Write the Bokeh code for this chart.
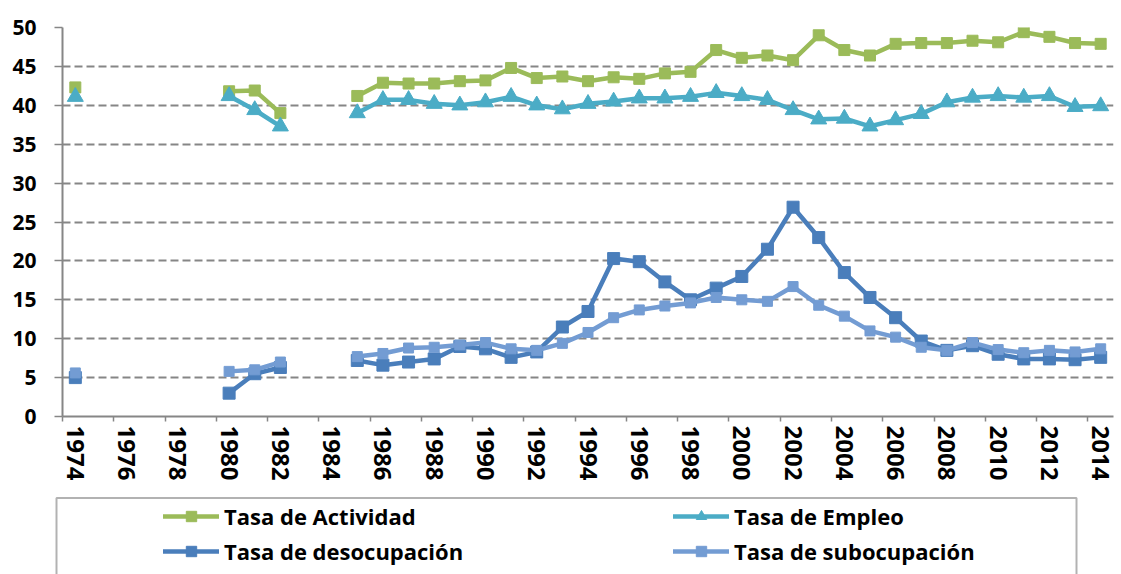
import math
from bokeh.plotting import figure
from bokeh.models import Range1d, FixedTicker, Legend, LegendItem, ColumnDataSource, BoxAnnotation
from bokeh.layouts import column, row
from bokeh.embed import file_html
from bokeh.resources import INLINE

N = None
years = list(range(1974, 2015))
tick_years = list(range(1974, 2015, 2))
y_ticks = list(range(0, 51, 5))

actividad = [42.3, N, N, N, N, N, 41.8, 41.9, 39.0, N, N,
             41.2, 42.9, 42.8, 42.8, 43.1, 43.2, 44.8, 43.5, 43.7, 43.1,
             43.6, 43.4, 44.1, 44.3, 47.1, 46.1, 46.4, 45.8, 49.0, 47.1,
             46.4, 47.9, 48.0, 48.0, 48.3, 48.1, 49.4, 48.8, 48.0, 47.9]
empleo = [41.1, N, N, N, N, N, 41.2, 39.4, 37.3, N, N,
          39.0, 40.7, 40.7, 40.2, 40.0, 40.4, 41.1, 40.0, 39.5, 40.2,
          40.5, 40.9, 40.9, 41.1, 41.6, 41.2, 40.7, 39.4, 38.2, 38.3,
          37.3, 38.1, 38.9, 40.4, 41.0, 41.2, 41.0, 41.2, 39.8, 39.9]
desocupacion = [5.0, N, N, N, N, N, 3.0, 5.5, 6.3, N, N,
                7.2, 6.6, 7.0, 7.4, 9.0, 8.7, 7.6, 8.3, 11.5, 13.5,
                20.3, 19.9, 17.3, 15.0, 16.5, 18.0, 21.5, 26.9, 23.0, 18.5,
                15.3, 12.7, 9.7, 8.5, 9.1, 8.0, 7.4, 7.4, 7.3, 7.6]
subocupacion = [5.6, N, N, N, N, N, 5.8, 6.0, 7.0, N, N,
                7.7, 8.1, 8.8, 8.9, 9.2, 9.5, 8.7, 8.5, 9.4, 10.8,
                12.7, 13.7, 14.2, 14.6, 15.3, 15.0, 14.8, 16.7, 14.3, 12.9,
                11.0, 10.2, 8.9, 8.5, 9.5, 8.6, 8.2, 8.5, 8.3, 8.7]

labels = ["Tasa de Actividad", "Tasa de Empleo", "Tasa de desocupación", "Tasa de subocupación"]
colors = ["#9BBB59", "#4BACC6", "#4A7EBB", "#739CD3"]
markers = ["square", "triangle", "square", "square"]
msizes = [11, 16, 12, 10]
series = [actividad, empleo, desocupacion, subocupacion]

FONT = "Open Sans"
GRAY = "#868686"

p = figure(width=1121, height=495, output_backend="svg", toolbar_location=None,
           x_range=Range1d(1973.5, 2014.5), y_range=Range1d(0, 50),
           min_border_left=62, min_border_right=8, min_border_top=27, min_border_bottom=79)
p.outline_line_color = None
p.background_fill_color = "white"
p.border_fill_color = "white"

for vals, col, mk, ms in zip(series, colors, markers, msizes):
    yv = [float("nan") if v is None else v for v in vals]
    src = ColumnDataSource(dict(x=years, y=yv))
    p.line("x", "y", source=src, line_color=col, line_width=4.5, line_join="round", line_cap="round")
    p.scatter("x", "y", source=src, marker=mk, size=ms, fill_color=col, line_color=col)

# x axis
xa = p.xaxis[0]
xa.ticker = FixedTicker(ticks=tick_years, minor_ticks=[y - 0.5 for y in tick_years])
xa.major_label_orientation = "vertical"
xa.major_tick_line_color = None
xa.major_tick_out = 5
xa.major_tick_in = 0
xa.minor_tick_out = 5
xa.minor_tick_in = 0
xa.minor_tick_line_color = GRAY
xa.minor_tick_line_width = 1.5
xa.axis_line_color = GRAY
xa.axis_line_width = 2
xa.major_label_standoff = 4
xa.major_label_text_font = FONT
xa.major_label_text_font_style = "bold"
xa.major_label_text_font_size = "24px"
xa.major_label_text_color = "black"

# y axis
ya = p.yaxis[0]
ya.ticker = FixedTicker(ticks=y_ticks)
ya.minor_tick_line_color = None
ya.major_tick_out = 8
ya.major_tick_in = 0
ya.major_tick_line_color = GRAY
ya.major_tick_line_width = 1.5
ya.axis_line_color = GRAY
ya.axis_line_width = 2
ya.major_label_standoff = 18
ya.major_label_text_font = FONT
ya.major_label_text_font_style = "bold"
ya.major_label_text_font_size = "21px"
ya.major_label_text_color = "black"

p.xgrid.grid_line_color = None
p.ygrid.ticker = FixedTicker(ticks=y_ticks[1:])
p.ygrid.grid_line_color = GRAY
p.ygrid.grid_line_width = 2
p.ygrid.grid_line_dash = "8 4"

# legend panel: its own full-width frame, ranges in panel pixels (y measured upward)
q = figure(width=1121, height=79, output_backend="svg", toolbar_location=None,
           x_axis_location=None, y_axis_location=None,
           x_range=Range1d(0, 1121), y_range=Range1d(0, 79),
           min_border_left=0, min_border_right=0, min_border_top=0, min_border_bottom=0)
q.grid.visible = False
q.outline_line_color = None
q.border_fill_color = "white"
q.add_layout(BoxAnnotation(left=56, right=1076, top=76.5, bottom=-40,
                           fill_alpha=0, line_color="black", line_width=2))

items = []
for lab, col, mk, ms in zip(labels, colors, markers, msizes):
    lr = q.line(x=[-50, -40], y=[-50, -40], line_color=col, line_width=4.5, line_cap="round")
    sr = q.scatter(x=[-50], y=[-50], marker=mk, size=ms, fill_color=col, line_color=col)
    items.append(LegendItem(label=lab, renderers=[lr, sr]))

def make_legend(its, x):
    return Legend(items=its, location=(x, 8), orientation="vertical",
                  padding=0, spacing=5, margin=0,
                  glyph_width=56, glyph_height=26, label_height=30,
                  label_standoff=5, border_line_color=None,
                  background_fill_alpha=0,
                  label_text_font=FONT, label_text_font_style="bold",
                  label_text_font_size="22px", label_text_color="black")

q.add_layout(make_legend([items[0], items[2]], 163))
q.add_layout(make_legend([items[1], items[3]], 673))

layout = column(p, row(q), spacing=0)
open("out.html", "w").write(file_html(layout, INLINE))
